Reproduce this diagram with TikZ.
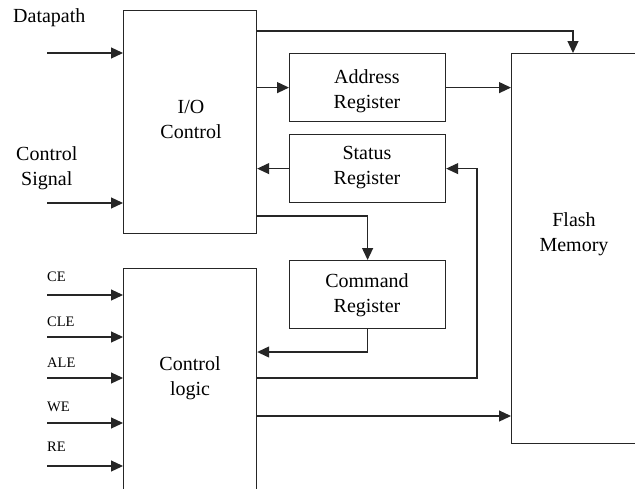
\documentclass[tikz,border=0pt]{standalone}
\usepackage{fontspec}
\setmainfont{Liberation Serif}
\usetikzlibrary{arrows.meta}
\begin{document}
\begin{tikzpicture}[x=1pt,y=-1pt,
  box/.style={draw=black!85,line width=1.2pt,inner sep=0pt,anchor=north west},
  txt/.style={font=\fontsize{20}{25}\selectfont,align=center,inner sep=0pt},
  sig/.style={font=\fontsize{14.5}{16}\selectfont,inner sep=0pt,anchor=west},
  arr/.style={draw=black!85,line width=1.2pt,-{Triangle[length=12pt,width=11pt]}},
  wire/.style={draw=black!85,line width=1.2pt}]
\useasboundingbox (0,0) rectangle (635,488);
\clip (0,0) rectangle (635,488);
\fill[white] (0,0) rectangle (635,488);

% blocks
\node[box,minimum width=133pt,minimum height=223pt] (io) at (123,10) {};
\node[box,minimum width=133pt,minimum height=240pt] (cl) at (123,268) {};
\node[box,minimum width=156pt,minimum height=68pt] (addr) at (289,53) {};
\node[box,minimum width=156pt,minimum height=68pt] (stat) at (289,134) {};
\node[box,minimum width=156pt,minimum height=68pt] (cmd) at (289,260) {};
\node[box,minimum width=140pt,minimum height=390pt] (flash) at (511,53) {};

% block captions
\node[txt] (iot) at (191,119) {I/O\\Control};
\node[txt] (clt) at (190,378) {Control\\logic};
\node[txt] (addrt) at (367,91) {Address\\Register};
\node[txt] (statt) at (367,168) {Status\\Register};
\node[txt] (cmdt) at (367,295) {Command\\Register};
\node[txt] (flasht) at (574,234) {Flash\\Memory};

% external inputs
\node[txt,anchor=west] (dp) at (13,18) {Datapath};
\node[txt,anchor=west] (cs) at (16,168) {Control\\Signal};
\coordinate (dpin) at (47,53);
\coordinate (csin) at (47,203);
\draw[arr] (dpin) -- (dpin -| io.west);
\draw[arr] (csin) -- (csin -| io.west);

\foreach \n/\lbl/\yy/\ly in {ce/CE/295/277, cle/CLE/337/322, ale/ALE/378/363, we/WE/423/407, re/RE/466/447}{
  \node[sig] (\n t) at (47,\ly) {\lbl};
  \coordinate (\n) at (47,\yy);
  \draw[arr] (\n) -- (\n -| cl.west);
}

% internal connections
\coordinate (ftop) at (573,31);
\draw[arr] (io.east |- ftop) -| (flash.north -| ftop);
\draw[arr] (io.east |- addr.west) -- (addr.west);
\draw[arr] (addr.east) -- (addr.east -| flash.west);
\draw[arr] (stat.west) -- (stat.west -| io.east);
\coordinate (cmdin) at (367,216);
\draw[arr] (io.east |- cmdin) -| (cmd.north);
\coordinate (cmdout) at (367,352);
\draw[arr] (cmd.south) |- (cl.east |- cmdout);
\coordinate (stback) at (477,378);
\draw[arr] (cl.east |- stback) -| (stback |- stat.east) -- (stat.east);
\coordinate (toflash) at (256,416);
\draw[arr] (cl.east |- toflash) -- (toflash -| flash.west);
\end{tikzpicture}
\end{document}
